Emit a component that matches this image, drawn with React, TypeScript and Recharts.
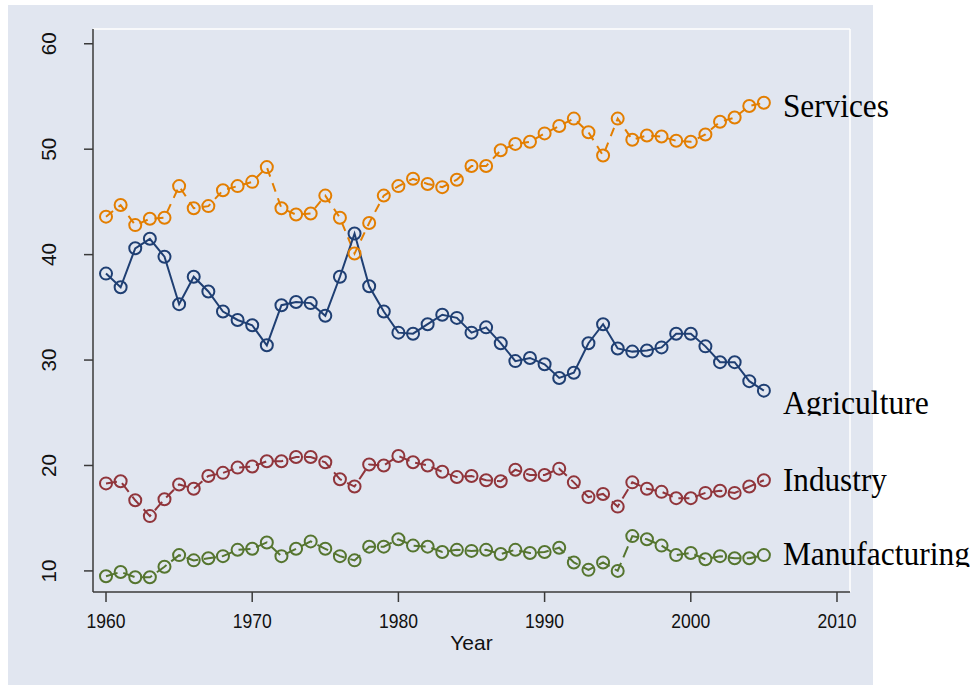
import React from 'react';
import { LineChart, Line, XAxis, YAxis, ReferenceLine } from 'recharts';

const years = [
  1960, 1961, 1962, 1963, 1964, 1965, 1966, 1967, 1968, 1969,
  1970, 1971, 1972, 1973, 1974, 1975, 1976, 1977, 1978, 1979,
  1980, 1981, 1982, 1983, 1984, 1985, 1986, 1987, 1988, 1989,
  1990, 1991, 1992, 1993, 1994, 1995, 1996, 1997, 1998, 1999,
  2000, 2001, 2002, 2003, 2004, 2005,
];

const services = [
  43.6, 44.7, 42.8, 43.4, 43.5, 46.5, 44.4, 44.6, 46.1, 46.5,
  46.9, 48.3, 44.4, 43.8, 43.9, 45.6, 43.5, 40.1, 43.0, 45.6,
  46.5, 47.2, 46.7, 46.4, 47.1, 48.4, 48.4, 49.9, 50.5, 50.7,
  51.5, 52.2, 52.9, 51.6, 49.4, 52.9, 50.9, 51.3, 51.2, 50.8,
  50.7, 51.4, 52.6, 53.0, 54.1, 54.4,
];

const agriculture = [
  38.2, 36.9, 40.6, 41.5, 39.8, 35.3, 37.9, 36.5, 34.6, 33.8,
  33.3, 31.4, 35.2, 35.5, 35.4, 34.2, 37.9, 42.0, 37.0, 34.6,
  32.6, 32.5, 33.4, 34.3, 34.0, 32.6, 33.1, 31.6, 29.9, 30.2,
  29.6, 28.3, 28.8, 31.6, 33.4, 31.1, 30.8, 30.9, 31.2, 32.5,
  32.5, 31.3, 29.8, 29.8, 28.0, 27.1,
];

const industry = [
  18.3, 18.5, 16.7, 15.2, 16.8, 18.2, 17.8, 19.0, 19.3, 19.8,
  19.9, 20.4, 20.4, 20.8, 20.8, 20.3, 18.7, 18.0, 20.1, 20.0,
  20.9, 20.3, 20.0, 19.4, 18.9, 19.0, 18.6, 18.5, 19.6, 19.1,
  19.1, 19.7, 18.4, 17.0, 17.3, 16.1, 18.4, 17.8, 17.5, 16.9,
  16.9, 17.4, 17.6, 17.4, 18.0, 18.6,
];

const manufacturing = [
  9.5, 9.9, 9.4, 9.4, 10.4, 11.5, 11.0, 11.2, 11.4, 12.0,
  12.1, 12.7, 11.4, 12.1, 12.8, 12.1, 11.4, 11.0, 12.3, 12.3,
  13.0, 12.4, 12.3, 11.8, 12.0, 11.9, 12.0, 11.6, 12.0, 11.7,
  11.8, 12.2, 10.8, 10.1, 10.8, 10.0, 13.3, 13.0, 12.4, 11.5,
  11.7, 11.1, 11.4, 11.2, 11.2, 11.5,
];

const xTicks = [1960, 1970, 1980, 1990, 2000, 2010];
const yTicks = [10, 20, 30, 40, 50, 60];

const data = years.map((year, i) => ({
  year,
  services: services[i],
  agriculture: agriculture[i],
  industry: industry[i],
  manufacturing: manufacturing[i],
}));

const series = [
  { key: 'services', name: 'Services', color: '#e37e00', dash: '9 7', labelDy: 14, labelW: 106, clip: false },
  { key: 'agriculture', name: 'Agriculture', color: '#1f3f73', dash: undefined, labelDy: 23, labelW: 146, clip: true },
  { key: 'industry', name: 'Industry', color: '#90353b', dash: '11 6', labelDy: 11, labelW: 104, clip: false },
  { key: 'manufacturing', name: 'Manufacturing', color: '#55752f', dash: '12 6', labelDy: 10, labelW: 187, clip: true },
];

const BG = '#e1e6f0';
const AXIS = '#3a3a3a';

const makeDot = (s: any) => (props: any) => {
  const { cx, cy, index } = props;
  const last = index === years.length - 1;
  const base = cy + s.labelDy;
  const clipId = `clip-${s.key}`;
  return (
    <g key={`${s.key}-${index}`}>
      <circle cx={cx} cy={cy} r={6} fill="none" stroke={s.color} strokeWidth={2} />
      {last && (
        <g>
          {s.clip && (
            <defs>
              <clipPath id={clipId}>
                <rect x={cx} y={base - 40} width={300} height={42} />
              </clipPath>
            </defs>
          )}
          <text
            x={cx + 19}
            y={base}
            fill="#000"
            fontSize={33}
            fontFamily="'Liberation Serif', 'Times New Roman', serif"
            textLength={s.labelW}
            lengthAdjust="spacingAndGlyphs"
            clipPath={s.clip ? `url(#${clipId})` : undefined}
          >
            {s.name}
          </text>
        </g>
      )}
    </g>
  );
};

const XTick = (props: any) => {
  const { x, payload } = props;
  return (
    <text
      x={x}
      y={628}
      textAnchor="middle"
      fill="#111"
      fontSize={21}
      fontFamily="'Liberation Sans', Arial, sans-serif"
      textLength={39}
      lengthAdjust="spacingAndGlyphs"
    >
      {payload.value}
    </text>
  );
};

const YTick = (props: any) => {
  const { y, payload } = props;
  return (
    <text
      transform={`translate(56, ${y}) rotate(-90)`}
      textAnchor="middle"
      fill="#111"
      fontSize={21}
      fontFamily="'Liberation Sans', Arial, sans-serif"
      textLength={23}
      lengthAdjust="spacingAndGlyphs"
    >
      {payload.value}
    </text>
  );
};

const YearLabel = () => (
  <text
    x={471.5}
    y={650}
    textAnchor="middle"
    fill="#111"
    fontSize={21}
    fontFamily="'Liberation Sans', Arial, sans-serif"
  >
    Year
  </text>
);

export default function App() {
  return (
    <div style={{ position: 'absolute', left: 0, top: 0, width: 980, height: 685 }}>
      <div style={{ position: 'absolute', left: 8, top: 5, width: 865, height: 680, background: BG }} />
      <div style={{ position: 'absolute', left: 0, top: 0 }}>
        <LineChart
          width={980}
          height={685}
          data={data}
          margin={{ top: 29, right: 130, left: 0, bottom: 33 }}
        >
          <XAxis
            dataKey="year"
            type="number"
            domain={[1959.11, 2010.89]}
            ticks={xTicks}
            tick={<XTick />}
            tickSize={10}
            height={60}
            stroke={AXIS}
            strokeWidth={1.5}
            label={{ content: () => <YearLabel /> }}
          />
          <YAxis
            type="number"
            domain={[8, 61.4]}
            ticks={yTicks}
            tick={<YTick />}
            tickSize={9}
            width={93}
            stroke={AXIS}
            strokeWidth={1.5}
          />
          <ReferenceLine y={61.4} stroke="#ffffff" strokeWidth={1.5} />
          <ReferenceLine x={2010.89} stroke="#ffffff" strokeWidth={1.5} />
          {series.map((s) => (
            <Line
              key={s.key}
              dataKey={s.key}
              type="linear"
              stroke={s.color}
              strokeWidth={2}
              strokeDasharray={s.dash}
              dot={makeDot(s)}
              activeDot={false}
              isAnimationActive={false}
            />
          ))}
        </LineChart>
      </div>
    </div>
  );
}
